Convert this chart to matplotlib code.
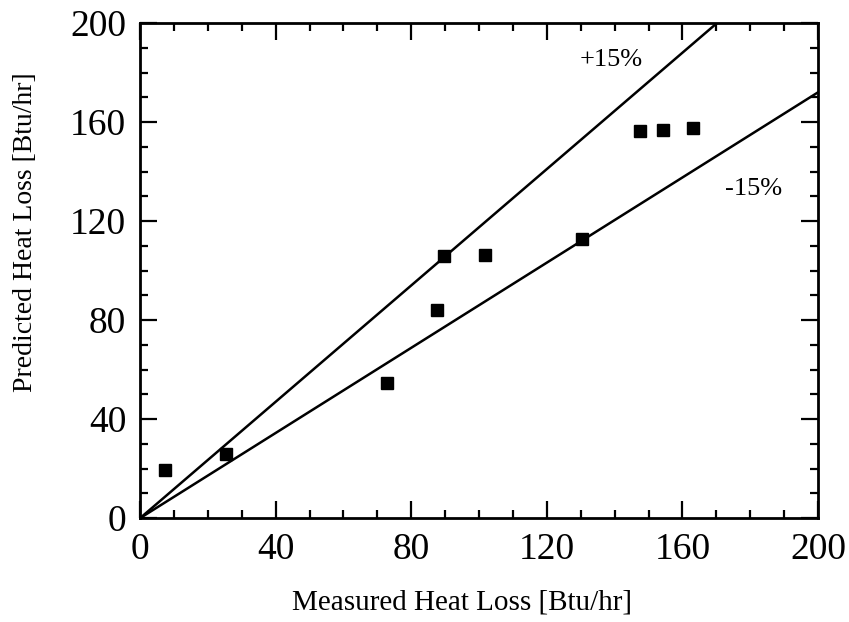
import matplotlib.pyplot as plt
from matplotlib.ticker import MultipleLocator

plt.rcParams['font.family'] = ['Liberation Serif', 'DejaVu Serif']

# measured vs predicted heat loss [Btu/hr]
measured = [7.4, 25.4, 72.9, 87.6, 89.7, 101.8, 130.4, 147.5, 154.3, 163.1]
predicted = [19.4, 25.9, 54.5, 84.0, 105.9, 106.3, 112.7, 156.4, 156.8, 157.6]

# +/-15% bounds
band_x = [0, 200]
upper_y = [0, 200 * 1.175]
lower_y = [0, 200 * 0.86]

fig = plt.figure(figsize=(8.49, 6.22), dpi=100)
ax = fig.add_axes([0.165, 0.167, 0.7985, 0.796])

ax.plot(band_x, upper_y, color='black', lw=1.8)
ax.plot(band_x, lower_y, color='black', lw=1.8)
ax.plot(measured, predicted, 's', color='black', ms=9, ls='none')

ax.text(139, 185, '+15%', fontsize=19, ha='center', va='center')
ax.text(181, 133, '-15%', fontsize=19, ha='center', va='center')

ax.set_xlim(0, 200)
ax.set_ylim(0, 200)
ax.xaxis.set_major_locator(MultipleLocator(40))
ax.yaxis.set_major_locator(MultipleLocator(40))
ax.xaxis.set_minor_locator(MultipleLocator(10))
ax.yaxis.set_minor_locator(MultipleLocator(10))
ax.tick_params(which='both', direction='in', top=True, right=True, width=1.6)
ax.tick_params(which='major', length=12, labelsize=27, pad=10)
ax.tick_params(which='minor', length=5.5)
for s in ax.spines.values():
    s.set_linewidth(2)

ax.set_xlabel('Measured Heat Loss [Btu/hr]', fontsize=21)
ax.set_ylabel('Predicted Heat Loss [Btu/hr]', fontsize=20)
ax.xaxis.set_label_coords(0.475, -0.145)
ax.yaxis.set_label_coords(-0.15, 0.578)

fig.savefig('out.png', dpi=100)
